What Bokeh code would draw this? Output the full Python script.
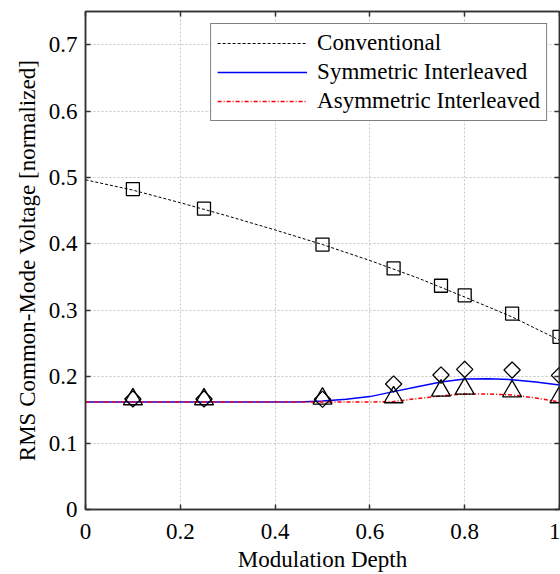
from bokeh.plotting import figure
from bokeh.models import LinearAxis, Range1d, FixedTicker, Legend, LegendItem
from bokeh.embed import file_html
from bokeh.resources import INLINE

# ---- data ----
conv_curve_x = [0, 0.1, 0.2, 0.3, 0.4, 0.5, 0.6, 0.7, 0.8, 0.9, 1.0]
conv_curve_y = [0.4965, 0.481, 0.462, 0.442, 0.421, 0.399, 0.375, 0.349, 0.320, 0.290, 0.255]

sym_curve_x = [0, 0.45, 0.5, 0.55, 0.6, 0.65, 0.7, 0.75, 0.8, 0.85, 0.9, 0.95, 1.0]
sym_curve_y = [0.162, 0.162, 0.1635, 0.166, 0.170, 0.1775, 0.185, 0.192, 0.1965, 0.197, 0.1955, 0.192, 0.1875]

asym_curve_x = [0, 0.6, 0.65, 0.7, 0.75, 0.8, 0.85, 0.9, 0.95, 1.0]
asym_curve_y = [0.162, 0.162, 0.1625, 0.167, 0.171, 0.174, 0.174, 0.1725, 0.168, 0.162]

meas_x = [0.1, 0.25, 0.5, 0.65, 0.75, 0.8, 0.9, 1.0]
conv_meas = [0.4825, 0.453, 0.399, 0.363, 0.337, 0.3225, 0.295, 0.26]
sym_meas = [0.1665, 0.1665, 0.166, 0.189, 0.2025, 0.211, 0.21, 0.202]
asym_meas = [0.166, 0.166, 0.167, 0.169, 0.179, 0.182, 0.178, 0.169]

x_ticks = [0, 0.2, 0.4, 0.6, 0.8, 1.0]
y_ticks = [0, 0.1, 0.2, 0.3, 0.4, 0.5, 0.6, 0.7]

FONT = "Liberation Serif"
FS = "23px"
AX = "#333333"

p = figure(width=560, height=574, output_backend="svg", toolbar_location=None,
           x_range=Range1d(0, 1), y_range=Range1d(0, 0.75),
           min_border_left=85, min_border_top=11, min_border_right=1, min_border_bottom=64,
           x_axis_label="Modulation Depth", y_axis_label="RMS Common-Mode Voltage [normalized]")
p.background_fill_color = "white"
p.border_fill_color = "white"
p.outline_line_color = AX
p.outline_line_width = 1.5

for ax in (p.xaxis[0], p.yaxis[0]):
    ax.axis_label_text_font = FONT
    ax.axis_label_text_font_size = FS
    ax.axis_label_text_font_style = "normal"
    ax.axis_label_text_color = "black"
    ax.axis_label_text_line_height = 0.9
    ax.major_label_text_font = FONT
    ax.major_label_text_font_size = FS
    ax.major_label_text_color = "black"
    ax.major_label_text_line_height = 0.9
    ax.axis_line_color = AX
    ax.axis_line_width = 1.5
    ax.major_tick_line_color = AX
    ax.major_tick_line_width = 1.5
    ax.major_tick_in = 5
    ax.major_tick_out = 0
    ax.minor_tick_line_color = None
p.xaxis[0].ticker = FixedTicker(ticks=x_ticks)
p.yaxis[0].ticker = FixedTicker(ticks=y_ticks)
p.xaxis[0].major_label_overrides = {0: "0", 1: "1"}
p.yaxis[0].major_label_overrides = {0: "0"}
p.xaxis[0].major_label_standoff = 14
p.yaxis[0].major_label_standoff = 8
p.xaxis[0].axis_label_standoff = 5
p.yaxis[0].axis_label_standoff = 6

# box ticks on the top and right sides (no labels)
for loc, tks in (("above", x_ticks), ("right", y_ticks)):
    a = LinearAxis(ticker=FixedTicker(ticks=tks))
    a.major_label_overrides = {t: "" for t in tks}
    a.major_label_standoff = 0
    a.major_tick_in = 5
    a.major_tick_out = 0
    a.major_tick_line_color = AX
    a.major_tick_line_width = 1.5
    a.minor_tick_line_color = None
    a.axis_line_color = AX
    a.axis_line_width = 1.5
    p.add_layout(a, loc)

p.xgrid[0].ticker = FixedTicker(ticks=x_ticks)
p.ygrid[0].ticker = FixedTicker(ticks=y_ticks)
for g in (p.xgrid[0], p.ygrid[0]):
    g.grid_line_color = "#c4c4c4"
    g.grid_line_dash = "2 2"
    g.grid_line_width = 1

l_conv = p.line(conv_curve_x, conv_curve_y, line_color="black", line_width=1, line_dash="3 2")
l_sym = p.line(sym_curve_x, sym_curve_y, line_color="#0000ff", line_width=1.5)
l_asym = p.line(asym_curve_x, asym_curve_y, line_color="#ff0000", line_width=1.5, line_dash="4 2 1 2")

p.scatter(meas_x, conv_meas, marker="square", size=13, fill_color=None, line_color="black", line_width=1.3)
p.scatter(meas_x, sym_meas, marker="square", size=11.5, angle=45, angle_units="deg",
          fill_color=None, line_color="black", line_width=1.3)
p.scatter(meas_x, asym_meas, marker="triangle", size=19, fill_color=None, line_color="black", line_width=1.3)

legend = Legend(items=[LegendItem(label="Conventional", renderers=[l_conv]),
                       LegendItem(label="Symmetric Interleaved", renderers=[l_sym]),
                       LegendItem(label="Asymmetric Interleaved", renderers=[l_asym])],
                location="top_right")
legend.label_text_font = FONT
legend.label_text_font_size = FS
legend.label_text_color = "black"
legend.glyph_width = 90
legend.glyph_height = 24
legend.label_height = 24
legend.label_standoff = 10
legend.spacing = 3
legend.padding = 6
legend.margin = 12
legend.border_line_color = "black"
legend.border_line_width = 1.5
legend.background_fill_alpha = 1
p.add_layout(legend)

open("out.html", "w").write(file_html(p, INLINE))
